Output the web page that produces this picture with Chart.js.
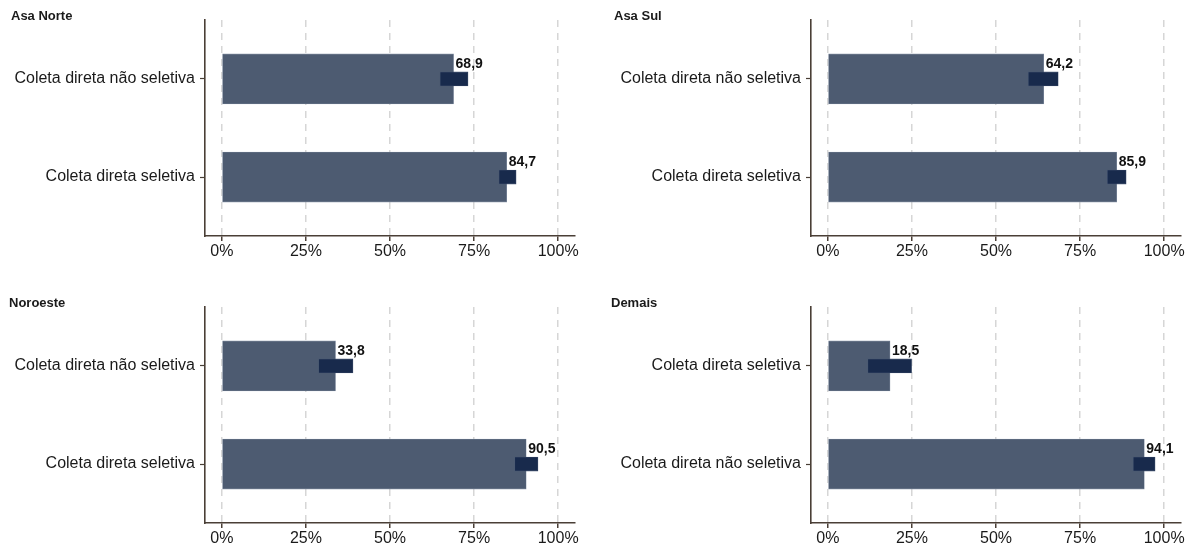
<!DOCTYPE html>
<html lang="pt-BR">

<head>
    <meta charset="UTF-8">
    <title>Coleta direta por região</title>
    <script src="https://cdn.jsdelivr.net/npm/chart.js"></script>
    <style>
        body {
            margin: 0;
            background: #ffffff;
            font-family: "Liberation Sans", Arial, sans-serif;
        }

        .painel {
            position: absolute;
            width: 596px;
            height: 276px;
        }

        .titulo {
            position: absolute;
            font-size: 13px;
            font-weight: bold;
            color: #1a1a1a;
        }
    </style>
</head>

<body>

    <div class="painel" style="left:0;top:0;"><canvas id="grafico-0"></canvas></div>
    <div class="painel" style="left:596px;top:0;"><canvas id="grafico-1"></canvas></div>
    <div class="painel" style="left:0;top:276px;"><canvas id="grafico-2"></canvas></div>
    <div class="painel" style="left:596px;top:276px;"><canvas id="grafico-3"></canvas></div>

    <div class="titulo" style="left:11px;top:8px;">Asa Norte</div>
    <div class="titulo" style="left:614px;top:8px;">Asa Sul</div>
    <div class="titulo" style="left:9px;top:295px;">Noroeste</div>
    <div class="titulo" style="left:611px;top:295px;">Demais</div>

</body>

</html>

<script>

    // dados
    const regioes = ['Asa Norte', 'Asa Sul', 'Noroeste', 'Demais'];
    const categorias = [
        ['Coleta direta não seletiva', 'Coleta direta seletiva'],
        ['Coleta direta não seletiva', 'Coleta direta seletiva'],
        ['Coleta direta não seletiva', 'Coleta direta seletiva'],
        ['Coleta direta seletiva', 'Coleta direta não seletiva']
    ];
    const valores = [[68.9, 84.7], [64.2, 85.9], [33.8, 90.5], [18.5, 94.1]];
    const icInferior = [[64.9, 82.4], [59.6, 83.1], [28.8, 87.1], [11.9, 90.8]];
    const icSuperior = [[73.2, 87.5], [68.5, 88.7], [39.0, 94.0], [24.9, 97.3]];
    const ticksX = [0, 25, 50, 75, 100];

    // margens de cada painel (largura do eixo y, topo, direita, altura do eixo x)
    const larguraEixoY = [205, 215, 205, 215];
    const margemTopo = [20, 20, 31, 31];
    const margemDireita = [21, 11, 21, 11];
    const alturaEixoX = [40, 40, 29, 29];

    const corEixo = '#4a3f36';
    const fonte = '"Liberation Sans", Arial, sans-serif';

    // rotulos de valor no fim da barra
    const rotulos = {
        id: 'rotulos',
        afterDatasetsDraw(chart) {
            const ctx = chart.ctx;
            const meta = chart.getDatasetMeta(1);
            ctx.save();
            ctx.font = 'bold 14px ' + fonte;
            ctx.fillStyle = '#111111';
            ctx.textAlign = 'left';
            ctx.textBaseline = 'alphabetic';
            meta.data.forEach((barra, i) => {
                const v = chart.data.datasets[1].data[i].x;
                const topo = barra.y - barra.height / 2;
                ctx.fillText(v.toFixed(1).replace('.', ','), barra.x + 2, topo + 14);
            });
            ctx.restore();
        }
    };

    regioes.forEach((regiao, p) => {

        const dadosBarra = valores[p].map((v, i) => ({ x: v, y: i + 1 }));
        const dadosIc = valores[p].map((v, i) => ({ x: [icInferior[p][i], icSuperior[p][i]], y: i + 1 }));

        const data = {
            datasets: [
                {
                    label: 'IC',
                    data: dadosIc,
                    backgroundColor: '#182a4c',
                    borderColor: '#4a5a75',
                    borderWidth: 0.6,
                    borderSkipped: false,
                    barThickness: 14,
                    grouped: false,
                    order: 0
                },
                {
                    label: regiao,
                    data: dadosBarra,
                    backgroundColor: '#4d5b71',
                    borderColor: '#8793a6',
                    borderWidth: 0.6,
                    borderSkipped: false,
                    barThickness: 50,
                    grouped: false,
                    order: 1
                }
            ]
        };

        const options = {
            indexAxis: 'y',
            responsive: false,
            animation: false,
            layout: {
                padding: { left: 0, top: margemTopo[p], right: margemDireita[p], bottom: 0 }
            },
            plugins: {
                legend: { display: false },
                tooltip: { enabled: false }
            },
            scales: {
                x: {
                    type: 'linear',
                    min: -5,
                    max: 105,
                    afterBuildTicks: (eixo) => { eixo.ticks = ticksX.map(v => ({ value: v })); },
                    afterFit: (eixo) => { eixo.height = alturaEixoX[p]; },
                    ticks: {
                        callback: (v) => v + '%',
                        color: '#1a1a1a',
                        font: { family: fonte, size: 16 },
                        padding: 1,
                        maxRotation: 0
                    },
                    grid: {
                        color: '#d6d6d6',
                        lineWidth: 1.5,
                        tickLength: 5,
                        tickColor: corEixo,
                        tickWidth: 1.5
                    },
                    border: {
                        color: corEixo,
                        width: 1.6,
                        dash: [7, 6]
                    }
                },
                y: {
                    type: 'linear',
                    reverse: true,
                    offset: false,
                    min: 0.4,
                    max: 2.6,
                    afterBuildTicks: (eixo) => { eixo.ticks = [{ value: 1 }, { value: 2 }]; },
                    afterFit: (eixo) => { eixo.width = larguraEixoY[p]; },
                    ticks: {
                        callback: (v) => categorias[p][v - 1],
                        color: '#1a1a1a',
                        font: { family: fonte, size: 16 },
                        padding: 5
                    },
                    grid: {
                        offset: false,
                        drawOnChartArea: false,
                        tickLength: 5,
                        tickColor: corEixo,
                        tickWidth: 1.2
                    },
                    border: {
                        color: corEixo,
                        width: 1.6
                    }
                }
            }
        };

        const canvas = document.getElementById('grafico-' + p);
        canvas.width = 596;
        canvas.height = 276;

        new Chart(canvas.getContext('2d'), {
            type: 'bar',
            data: data,
            options: options,
            plugins: [rotulos]
        });

    });

</script>
